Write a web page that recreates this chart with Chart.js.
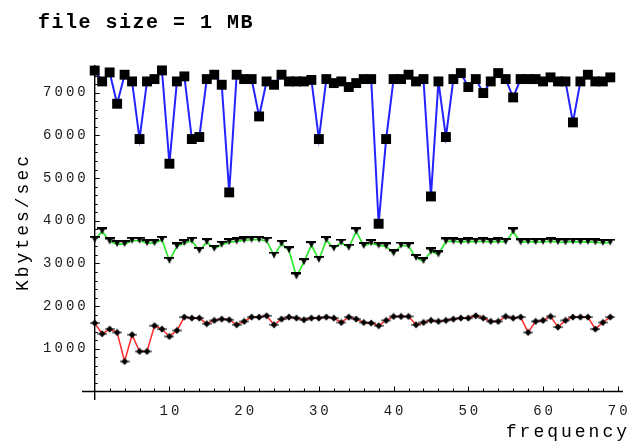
<!DOCTYPE html>
<html>
<head>
<meta charset="utf-8">
<script src="https://cdn.jsdelivr.net/npm/chart.js@4"></script>
<style>
  html, body { margin: 0; padding: 0; background: #fff; }
  canvas { display: block; }
</style>
</head>
<body>
<canvas id="chart-area" width="632" height="442"></canvas>
<script>
(function () {
  'use strict';

  // data
  var frequency = [0, 1, 2, 3, 4, 5, 6, 7, 8, 9, 10, 11, 12, 13, 14, 15, 16, 17, 18, 19,
    20, 21, 22, 23, 24, 25, 26, 27, 28, 29, 30, 31, 32, 33, 34, 35, 36, 37, 38, 39,
    40, 41, 42, 43, 44, 45, 46, 47, 48, 49, 50, 51, 52, 53, 54, 55, 56, 57, 58, 59,
    60, 61, 62, 63, 64, 65, 66, 67, 68, 69];

  var rateTop = [7520, 7265, 7476, 6742, 7422, 7265, 5915, 7265, 7320, 7523,
    5337, 7265, 7383, 5915, 5962, 7320, 7422, 7187, 4665, 7422,
    7320, 7320, 6445, 7265, 7187, 7422, 7265, 7265, 7265, 7300,
    5915, 7320, 7226, 7265, 7134, 7226, 7320, 7320, 3930, 5915,
    7320, 7320, 7422, 7265, 7320, 4570, 7265, 5962, 7320, 7460,
    7134, 7320, 6993, 7265, 7460, 7320, 6890, 7320, 7320, 7320,
    7265, 7360, 7265, 7265, 6305, 7265, 7422, 7265, 7265, 7360];

  var rateMid = [3555, 3750, 3515, 3454, 3454, 3532, 3532, 3477, 3477, 3555,
    3063, 3399, 3477, 3532, 3297, 3500, 3344, 3440, 3500, 3515,
    3540, 3555, 3555, 3532, 3185, 3460, 3310, 2695, 3030, 3430,
    3086, 3550, 3350, 3490, 3370, 3750, 3410, 3477, 3420, 3400,
    3235, 3420, 3405, 3130, 3055, 3281, 3210, 3515, 3515, 3500,
    3515, 3510, 3520, 3500, 3515, 3505, 3750, 3495, 3510, 3500,
    3505, 3520, 3500, 3495, 3510, 3500, 3505, 3495, 3480, 3490];

  var rateLow = [1603, 1352, 1462, 1383, 703, 1329, 938, 938, 1540, 1462,
    1289, 1430, 1743, 1720, 1720, 1587, 1665, 1696, 1680, 1563,
    1641, 1743, 1743, 1774, 1563, 1696, 1743, 1720, 1680, 1720,
    1720, 1743, 1720, 1617, 1743, 1696, 1617, 1603, 1540, 1665,
    1758, 1758, 1758, 1563, 1617, 1665, 1641, 1665, 1696, 1720,
    1720, 1774, 1720, 1641, 1641, 1758, 1720, 1743, 1383, 1641,
    1665, 1758, 1509, 1665, 1743, 1743, 1743, 1462, 1617, 1743];

  var xTickLabels = [10, 20, 30, 40, 50, 60, 70];
  var yTickLabels = [1000, 2000, 3000, 4000, 5000, 6000, 7000];

  var titleText = 'file size = 1 MB';
  var xTitle = 'frequency';
  var yTitle = 'Kbytes/sec';

  function toPoints(values) {
    return frequency.map(function (f, i) { return { x: f, y: values[i] }; });
  }

  function glyph(w, h, draw) {
    var c = document.createElement('canvas');
    c.width = w;
    c.height = h;
    var g = c.getContext('2d');
    g.fillStyle = '#000';
    draw(g);
    return c;
  }

  // little "T" mark used for the middle curve
  var teeMark = glyph(10, 8, function (g) {
    g.fillRect(0, 0, 10, 2);
    g.beginPath();
    g.moveTo(2, 1);
    g.lineTo(8, 1);
    g.lineTo(5, 7);
    g.closePath();
    g.fill();
  });

  // diamond with a dash for the bottom curve
  var diamondMark = glyph(10, 8, function (g) {
    g.beginPath();
    g.moveTo(5, 0.5);
    g.lineTo(8.5, 4);
    g.lineTo(5, 7.5);
    g.lineTo(1.5, 4);
    g.closePath();
    g.fill();
    g.fillRect(0, 3.5, 10, 1);
  });

  var monoFont = '"Liberation Mono", "DejaVu Sans Mono", monospace';

  var axesPlugin = {
    id: 'mathAxes',
    beforeDatasetsDraw: function (chart) {
      var ctx = chart.ctx;
      var xs = chart.scales.x;
      var ys = chart.scales.y;
      var x0 = xs.getPixelForValue(0);
      var y0 = ys.getPixelForValue(0);
      var v, p, len;

      ctx.save();
      ctx.strokeStyle = '#000';
      ctx.lineWidth = 1.4;
      ctx.beginPath();
      ctx.moveTo(xs.left, y0);
      ctx.lineTo(xs.right, y0);
      ctx.moveTo(x0, ys.bottom);
      ctx.lineTo(x0, ys.top);
      ctx.stroke();

      ctx.lineWidth = 1;
      ctx.beginPath();
      for (v = 2; v <= 70; v += 2) {
        p = Math.round(xs.getPixelForValue(v)) + 0.5;
        len = v % 10 === 0 ? 5 : 3;
        ctx.moveTo(p, y0);
        ctx.lineTo(p, y0 - len);
      }
      for (v = 200; v <= 7600; v += 200) {
        p = Math.round(ys.getPixelForValue(v)) + 0.5;
        len = v % 1000 === 0 ? 5 : 3;
        ctx.moveTo(x0, p);
        ctx.lineTo(x0 + len, p);
      }
      ctx.stroke();

      ctx.fillStyle = '#1a1a1a';
      ctx.font = '14px ' + monoFont;
      ctx.letterSpacing = '3px';
      ctx.textBaseline = 'middle';
      ctx.textAlign = 'center';
      xTickLabels.forEach(function (t) {
        ctx.fillText(String(t), xs.getPixelForValue(t) + 1.5, y0 + 20);
      });
      ctx.textAlign = 'right';
      yTickLabels.forEach(function (t) {
        ctx.fillText(String(t), x0 - 6, ys.getPixelForValue(t));
      });

      ctx.fillStyle = '#000';
      ctx.font = '18px ' + monoFont;
      ctx.letterSpacing = '3px';
      ctx.textAlign = 'right';
      ctx.textBaseline = 'alphabetic';
      ctx.fillText(xTitle, 630, 437);

      ctx.save();
      ctx.translate(28, 222);
      ctx.rotate(-Math.PI / 2);
      ctx.textAlign = 'center';
      ctx.fillText(yTitle, 0, 0);
      ctx.restore();

      ctx.font = 'bold 20px ' + monoFont;
      ctx.letterSpacing = '1.5px';
      ctx.textAlign = 'left';
      ctx.fillText(titleText, 38, 28);
      ctx.restore();
    }
  };

  var ctx = document.getElementById('chart-area').getContext('2d');
  window.rateChart = new Chart(ctx, {
    type: 'scatter',
    data: {
      datasets: [
        {
          data: toPoints(rateTop),
          showLine: true,
          borderColor: '#2323ff',
          borderWidth: 2,
          pointStyle: 'rect',
          pointRadius: 7,
          pointBorderWidth: 0,
          pointBackgroundColor: '#000'
        },
        {
          data: toPoints(rateMid),
          showLine: true,
          borderColor: '#2ee82e',
          borderWidth: 1.7,
          pointStyle: teeMark,
          pointRadius: 4
        },
        {
          data: toPoints(rateLow),
          showLine: true,
          borderColor: '#ff2a2a',
          borderWidth: 1.5,
          pointStyle: diamondMark,
          pointRadius: 4
        }
      ]
    },
    options: {
      responsive: false,
      animation: false,
      clip: false,
      layout: { padding: { left: 82, right: 9, top: 65, bottom: 42 } },
      plugins: {
        legend: { display: false },
        tooltip: { enabled: false }
      },
      scales: {
        x: { type: 'linear', min: -1.7, max: 70.7, display: false },
        y: { type: 'linear', min: -200, max: 7650, display: false }
      }
    },
    plugins: [axesPlugin]
  });
})();
</script>
</body>
</html>
